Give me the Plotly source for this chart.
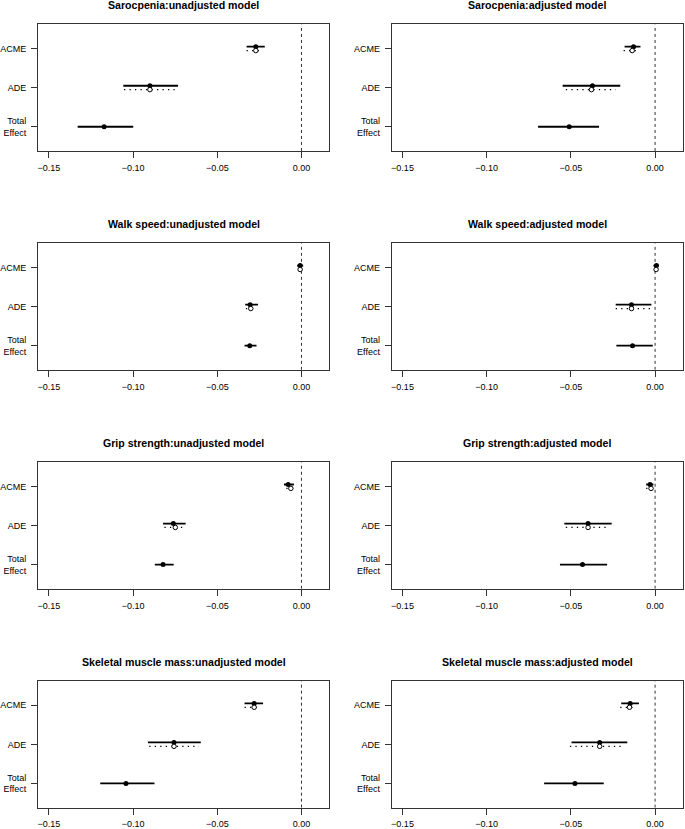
import plotly.graph_objects as go

titles = ["Sarocpenia:unadjusted model", "Sarocpenia:adjusted model",
          "Walk speed:unadjusted model", "Walk speed:adjusted model",
          "Grip strength:unadjusted model", "Grip strength:adjusted model",
          "Skeletal muscle mass:unadjusted model", "Skeletal muscle mass:adjusted model"]

effect_labels = ["ACME", "ADE", "Total<br>Effect"]
effect_pos = [3, 2, 1]
x_ticks = [-0.15, -0.10, -0.05, 0.00]
x_tick_text = ["\u22120.15", "\u22120.10", "\u22120.05", "0.00"]

# treated (solid) and control (dotted) estimates with 95% CI
acme1_est = [-0.0271, -0.0128, -0.0008, 0.0008, -0.0079, -0.0030, -0.0281, -0.0148]
acme1_lo  = [-0.0326, -0.0181, -0.0026, -0.0010, -0.0104, -0.0053, -0.0338, -0.0201]
acme1_hi  = [-0.0218, -0.0087, 0.0010, 0.0022, -0.0045, -0.0010, -0.0228, -0.0096]
acme0_est = [-0.0271, -0.0136, -0.0008, 0.0006, -0.0063, -0.0024, -0.0281, -0.0152]
acme0_lo  = [-0.0326, -0.0187, -0.0020, -0.0005, -0.0090, -0.0053, -0.0338, -0.0207]
acme0_hi  = [-0.0232, -0.0098, 0.0005, 0.0015, -0.0051, -0.0014, -0.0242, -0.0112]
ade1_est  = [-0.0900, -0.0372, -0.0305, -0.0140, -0.0761, -0.0398, -0.0757, -0.0329]
ade1_lo   = [-0.1058, -0.0549, -0.0334, -0.0234, -0.0822, -0.0539, -0.0912, -0.0496]
ade1_hi   = [-0.0733, -0.0207, -0.0258, -0.0022, -0.0688, -0.0258, -0.0598, -0.0165]
ade0_est  = [-0.0900, -0.0378, -0.0301, -0.0140, -0.0749, -0.0398, -0.0757, -0.0329]
ade0_lo   = [-0.1054, -0.0530, -0.0330, -0.0234, -0.0814, -0.0530, -0.0904, -0.0506]
ade0_hi   = [-0.0753, -0.0234, -0.0271, -0.0014, -0.0688, -0.0270, -0.0609, -0.0181]
tot_est   = [-0.1172, -0.0510, -0.0307, -0.0134, -0.0822, -0.0431, -0.1042, -0.0476]
tot_lo    = [-0.1329, -0.0695, -0.0338, -0.0230, -0.0871, -0.0565, -0.1195, -0.0659]
tot_hi    = [-0.0999, -0.0333, -0.0267, -0.0014, -0.0759, -0.0285, -0.0873, -0.0305]

W, H = 685, 829
col_x = [(34.3, 327.0), (390.0, 682.7)]
row_top0 = 24.5
row_h = 127.0
row_step = 219.7
off = 0.05

fig = go.Figure()
layout = dict(width=W, height=H, margin=dict(l=0, r=0, t=0, b=0),
              paper_bgcolor="white", plot_bgcolor="white", showlegend=False,
              font=dict(family="Liberation Sans, Arial, sans-serif", color="black"))
annotations = []

def add_seg(lo, hi, y, solid, ax):
    line = dict(color="black", width=1.8) if solid else dict(color="black", width=1.3, dash="1.3px,4.2px")
    fig.add_trace(go.Scatter(x=[lo, hi], y=[y, y], mode="lines", line=line,
                             xaxis=ax[0], yaxis=ax[1], hoverinfo="skip"))

for i in range(8):
    r, c = divmod(i, 2)
    n = i + 1
    xa = "x" if n == 1 else f"x{n}"
    ya = "y" if n == 1 else f"y{n}"
    ax = (xa, ya)
    top = row_top0 + r * row_step
    bot = top + row_h
    x0, x1 = col_x[c]
    layout["xaxis" if n == 1 else f"xaxis{n}"] = dict(
        domain=[x0 / W, x1 / W], range=[-0.1564, 0.0164], anchor=ya,
        tickvals=x_ticks, ticktext=x_tick_text, ticks="outside", ticklen=6,
        tickcolor="#333", showline=True, linecolor="#333", linewidth=1, mirror=True,
        showgrid=False, zeroline=False, tickfont=dict(size=9), fixedrange=True,
        ticklabelstandoff=2)
    layout["yaxis" if n == 1 else f"yaxis{n}"] = dict(
        domain=[1 - bot / H, 1 - top / H], range=[0.38, 3.62], anchor=xa,
        tickvals=effect_pos, ticktext=effect_labels, ticks="outside", ticklen=6,
        tickcolor="#333", showline=True, linecolor="#333", linewidth=1, mirror=True,
        showgrid=False, zeroline=False, tickfont=dict(size=9), fixedrange=True,
        ticklabelstandoff=3)

    # zero reference line
    fig.add_trace(go.Scatter(x=[0, 0], y=[0.38, 3.62], mode="lines",
                             line=dict(color="#333", width=1, dash="3px,3px"),
                             xaxis=xa, yaxis=ya, hoverinfo="skip"))
    add_seg(acme1_lo[i], acme1_hi[i], 3 + off, True, ax)
    add_seg(acme0_lo[i], acme0_hi[i], 3 - off, False, ax)
    add_seg(ade1_lo[i], ade1_hi[i], 2 + off, True, ax)
    add_seg(ade0_lo[i], ade0_hi[i], 2 - off, False, ax)
    add_seg(tot_lo[i], tot_hi[i], 1, True, ax)
    fig.add_trace(go.Scatter(x=[acme1_est[i], ade1_est[i], tot_est[i]], y=[3 + off, 2 + off, 1],
                             mode="markers", marker=dict(color="black", size=5),
                             xaxis=xa, yaxis=ya, hoverinfo="skip"))
    fig.add_trace(go.Scatter(x=[acme0_est[i], ade0_est[i]], y=[3 - off, 2 - off],
                             mode="markers",
                             marker=dict(color="white", size=4.5, line=dict(color="black", width=1)),
                             xaxis=xa, yaxis=ya, hoverinfo="skip"))

    annotations.append(dict(text="<b>" + titles[i] + "</b>", x=(x0 + x1) / 2 / W,
                            y=1 - (top - 19.5) / H, xref="paper", yref="paper",
                            showarrow=False, xanchor="center", yanchor="middle",
                            font=dict(size=10.6, color="black")))

layout["annotations"] = annotations
fig.update_layout(**layout)
fig.write_html("out.html", config={"displayModeBar": False},
               post_script="document.body.style.margin='0';document.body.style.overflow='hidden';")
